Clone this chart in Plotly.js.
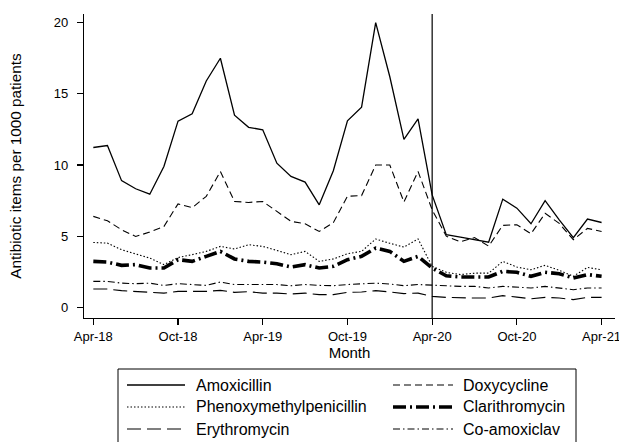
<!DOCTYPE html>
<html>
<head>
<meta charset="utf-8">
<script src="https://cdn.plot.ly/plotly-3.0.1.min.js"></script>
<style>html,body{margin:0;padding:0;background:#fff;}#chart{width:619px;height:442px;}</style>
</head>
<body>
<div id="chart"></div>
<script>
// ---- data ----
var months = ['Apr-18','May-18','Jun-18','Jul-18','Aug-18','Sep-18','Oct-18','Nov-18','Dec-18','Jan-19','Feb-19','Mar-19',
              'Apr-19','May-19','Jun-19','Jul-19','Aug-19','Sep-19','Oct-19','Nov-19','Dec-19','Jan-20','Feb-20','Mar-20',
              'Apr-20','May-20','Jun-20','Jul-20','Aug-20','Sep-20','Oct-20','Nov-20','Dec-20','Jan-21','Feb-21','Mar-21','Apr-21'];
var tickLabels = ['Apr-18','Oct-18','Apr-19','Oct-19','Apr-20','Oct-20','Apr-21'];
var markerMonth = 'Apr-20';

var amoxicillin = [11.23, 11.37, 8.9, 8.33, 7.95, 9.9, 13.08, 13.6, 15.9, 17.5, 13.5, 12.65, 12.47, 10.13, 9.2, 8.8, 7.2, 9.6,
                   13.1, 14.06, 20.0, 16.2, 11.8, 13.24, 7.9, 5.1, 4.93, 4.75, 4.58, 7.6, 6.97, 5.87, 7.5, 6.15, 4.9, 6.2, 5.96];
var doxycycline = [6.39, 6.08, 5.45, 4.98, 5.29, 5.68, 7.27, 7.0, 7.8, 9.54, 7.44, 7.37, 7.44, 6.74, 6.04, 5.87, 5.33, 5.95,
                   7.8, 7.85, 10.0, 10.0, 7.4, 9.55, 6.85, 5.0, 4.6, 4.9, 4.3, 5.76, 5.8, 5.17, 6.6, 5.9, 4.75, 5.55, 5.33];
var phenoxymethylpenicillin = [4.56, 4.51, 4.05, 3.77, 3.46, 3.0, 3.5, 3.7, 3.93, 4.28, 4.1, 4.4, 4.28, 4.0, 3.7, 3.93, 3.23, 3.4,
                   3.77, 3.93, 4.8, 4.5, 4.23, 4.8, 2.88, 2.46, 2.3, 2.4, 2.4, 3.23, 2.83, 2.64, 2.95, 2.6, 2.18, 2.8, 2.64];
var clarithromycin = [3.23, 3.18, 2.95, 3.0, 2.76, 2.76, 3.35, 3.23, 3.58, 3.93, 3.4, 3.23, 3.18, 3.06, 2.83, 3.0, 2.76, 2.88,
                   3.35, 3.58, 4.16, 3.93, 3.23, 3.58, 2.76, 2.22, 2.13, 2.13, 2.13, 2.53, 2.46, 2.18, 2.46, 2.36, 2.06, 2.3, 2.18];
var erythromycin = [1.29, 1.29, 1.17, 1.12, 1.05, 1.0, 1.12, 1.12, 1.12, 1.19, 1.05, 1.1, 1.0, 1.0, 0.94, 1.0, 0.89, 0.89,
                   1.05, 1.08, 1.17, 1.08, 0.96, 1.0, 0.77, 0.7, 0.65, 0.65, 0.65, 0.82, 0.72, 0.6, 0.7, 0.65, 0.54, 0.7, 0.7];
var coAmoxiclav = [1.82, 1.82, 1.7, 1.66, 1.7, 1.54, 1.66, 1.6, 1.54, 1.78, 1.6, 1.6, 1.6, 1.6, 1.52, 1.6, 1.54, 1.52,
                   1.6, 1.66, 1.7, 1.64, 1.52, 1.6, 1.54, 1.52, 1.47, 1.47, 1.36, 1.47, 1.43, 1.36, 1.47, 1.36, 1.24, 1.36, 1.36];

var seriesNames = ['Amoxicillin','Doxycycline','Phenoxymethylpenicillin','Clarithromycin','Erythromycin','Co-amoxiclav'];
var seriesValues = [amoxicillin, doxycycline, phenoxymethylpenicillin, clarithromycin, erythromycin, coAmoxiclav];

// ---- styles ----
var styles = {
  'Amoxicillin':             {width: 1.3, dash: 'solid'},
  'Doxycycline':             {width: 1.1, dash: '7px,4px'},
  'Phenoxymethylpenicillin': {width: 1.1, dash: '1.5px,2px'},
  'Clarithromycin':          {width: 3.6, dash: '13px,4px,2px,4px'},
  'Erythromycin':            {width: 1.1, dash: '14px,6px'},
  'Co-amoxiclav':            {width: 1.1, dash: '7px,3px,1.5px,3px'}
};
var FONT = 'Liberation Sans, Arial, Helvetica, sans-serif';

// plot-area geometry (pixels)
var L = 84, R = 4, T = 14, B = 124;
var W = 619 - L - R, H = 442 - T - B;
function px(x) { return (x - L) / W; }
function py(y) { return (T + H - y) / H; }

var xIdx = months.map(function(m, i) { return i; });

var traces = seriesNames.map(function(name, k) {
  return {
    type: 'scatter', mode: 'lines', name: name,
    x: xIdx, y: seriesValues[k],
    line: {color: '#000', width: styles[name].width, dash: styles[name].dash},
    showlegend: false, hoverinfo: 'skip'
  };
});

var tickIdx = tickLabels.map(function(t) { return months.indexOf(t); });
var vIdx = months.indexOf(markerMonth);

var shapes = [{
  type: 'line', xref: 'x', yref: 'paper', x0: vIdx, x1: vIdx, y0: 0, y1: 1,
  line: {color: '#000', width: 1.2}
}];
var annotations = [];

// custom two-column legend (Stata style)
shapes.push({type: 'rect', xref: 'paper', yref: 'paper',
  x0: px(118), x1: px(576), y0: py(369), y1: py(460),
  line: {color: '#000', width: 1}, fillcolor: 'rgba(0,0,0,0)'});
var colSample = [[127, 185], [393, 453]];
var colText = [196, 463];
var rowY = [385, 407, 429];
seriesNames.forEach(function(name, k) {
  var col = k % 2, row = Math.floor(k / 2);
  shapes.push({type: 'line', xref: 'paper', yref: 'paper',
    x0: px(colSample[col][0]), x1: px(colSample[col][1]), y0: py(rowY[row]), y1: py(rowY[row]),
    line: {color: '#000', width: styles[name].width, dash: styles[name].dash}});
  annotations.push({xref: 'paper', yref: 'paper', x: px(colText[col] - 2), y: py(rowY[row]),
    xanchor: 'left', yanchor: 'middle', showarrow: false, text: name,
    font: {family: FONT, size: 16, color: '#000'}});
});

var layout = {
  width: 619, height: 442,
  margin: {l: L, r: R, t: T, b: B, pad: 0},
  paper_bgcolor: '#fff', plot_bgcolor: '#fff',
  font: {family: FONT, color: '#000'},
  showlegend: false,
  xaxis: {
    range: [-0.66, 36.95], tickmode: 'array', tickvals: tickIdx, ticktext: tickLabels,
    showgrid: false, zeroline: false, showline: true, linecolor: '#000', linewidth: 1.2,
    ticks: 'outside', ticklen: 6, tickwidth: 1.2, tickcolor: '#000',
    ticklabeloverflow: 'allow',
    tickfont: {family: FONT, size: 13, color: '#000'},
    title: {text: 'Month', font: {family: FONT, size: 15, color: '#000'}, standoff: 2},
    automargin: false
  },
  yaxis: {
    range: [-0.75, 20.61], tickmode: 'array', tickvals: [0, 5, 10, 15, 20],
    showgrid: false, zeroline: false, showline: true, linecolor: '#000', linewidth: 1.2,
    ticks: 'outside', ticklen: 6, tickwidth: 1.2, tickcolor: '#000',
    ticklabelstandoff: 6,
    tickfont: {family: FONT, size: 13, color: '#000'},
    title: {text: 'Antibiotic items per 1000 patients', font: {family: FONT, size: 15.3, color: '#000'}, standoff: 28},
    automargin: false
  },
  shapes: shapes,
  annotations: annotations
};

Plotly.newPlot('chart', traces, layout, {staticPlot: true, displayModeBar: false});
</script>
</body>
</html>
